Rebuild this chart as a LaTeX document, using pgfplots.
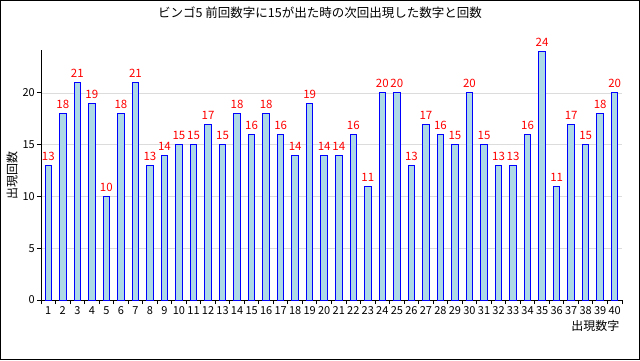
\documentclass[border=0pt]{standalone}
\usepackage{fontspec}
\setmainfont{Noto Sans CJK JP}
\usepackage{pgfplots}
\pgfplotsset{compat=1.18}
\definecolor{barfill}{HTML}{ADD8E6}
\definecolor{barline}{HTML}{0000FF}
\definecolor{gridc}{HTML}{DCDCDC}
\begin{document}
\begin{tikzpicture}[x=1pt,y=1pt]
\useasboundingbox (0,0) rectangle (640,360);
\draw[black,line width=1pt] (0.5,0.5) rectangle (639.5,359.5);
\node[font=\fontsize{12.5}{14}\selectfont] at (320,347) {ビンゴ5 前回数字に15が出た時の次回出現した数字と回数};
\node[font=\fontsize{12}{14}\selectfont, rotate=90] at (12,185) {出現回数};
\begin{axis}[
  at={(41pt,60pt)}, anchor=origin,
  scale only axis, width=581pt, height=250pt,
  xmin=0.5, xmax=40.5, ymin=0, ymax=24.15,
  axis x line=bottom, axis y line=left,
  axis line style={-, black, line width=1pt},
  xtick={1,...,40},
  minor xtick={0.5,1.5,...,40.5},
  major x tick style={draw=none},
  minor x tick style={black, line width=1pt},
  ytick={0,5,10,15,20},
  y tick style={black, line width=1pt},
  tick align=outside,
  major tick length=4pt, minor tick length=4pt,
  ymajorgrids, grid style={gridc, line width=0.8pt},
  /pgf/number format/assume math mode=true,
  tick label style={font=\fontsize{11}{13}\selectfont},
  xticklabel style={inner sep=1pt, yshift=-1pt},
  yticklabel style={inner sep=2pt},
  clip=false,
]
\addplot[ybar, bar width=6.5pt, fill=barfill, draw=barline, line width=1pt,
  nodes near coords,
  every node near coord/.style={font=\fontsize{11.5}{13}\selectfont, text=red, inner sep=1.5pt, yshift=3pt}]
coordinates {
(1,13) (2,18) (3,21) (4,19) (5,10) (6,18) (7,21) (8,13) (9,14) (10,15)
(11,15) (12,17) (13,15) (14,18) (15,16) (16,18) (17,16) (18,14) (19,19) (20,14)
(21,14) (22,16) (23,11) (24,20) (25,20) (26,13) (27,17) (28,16) (29,15) (30,20)
(31,15) (32,13) (33,13) (34,16) (35,24) (36,11) (37,17) (38,15) (39,18) (40,20)
};
\end{axis}
\node[font=\fontsize{12}{14}\selectfont, anchor=east] at (623,34) {出現数字};
\end{tikzpicture}
\end{document}
